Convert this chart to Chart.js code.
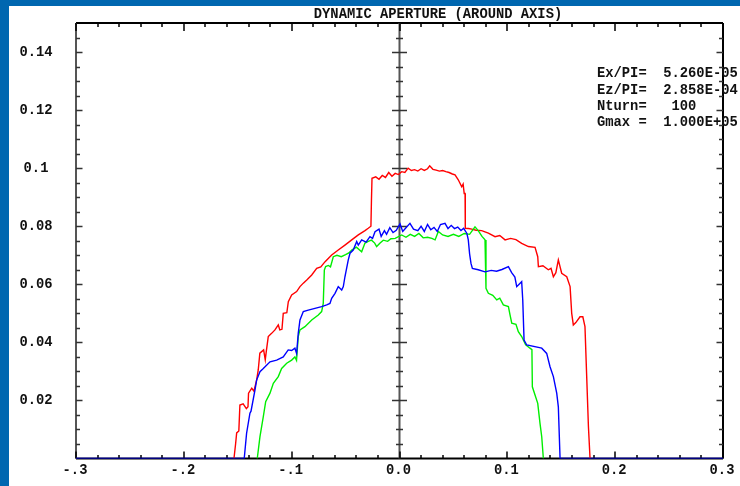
<!DOCTYPE html>
<html>
<head>
<meta charset="utf-8">
<script src="https://cdn.jsdelivr.net/npm/chart.js@4"></script>
<style>
  html, body { margin: 0; padding: 0; background: #0067b0; overflow: hidden; }
  #wrap { position: absolute; left: 9px; top: 6px; width: 731px; height: 480px; background: #fff; }
</style>
</head>
<body>
<div id="wrap"><canvas id="da" width="731" height="480"></canvas></div>
<script>
// dynamic aperture curves
var redX = [-0.1535,-0.152,-0.151,-0.149,-0.148,-0.145,-0.142,-0.1405,-0.140,-0.137,-0.135,-0.1325,-0.131,-0.1295,-0.126,-0.1245,-0.1235,-0.1217,-0.1186,-0.1155,-0.1124,-0.111,-0.109,-0.1078,-0.1045,-0.1031,-0.100,-0.0954,-0.0923,-0.0892,-0.086,-0.0814,-0.0768,-0.073,-0.069,-0.0629,-0.0568,-0.0506,-0.0443,-0.0382,-0.032,-0.029,-0.0265,-0.026,-0.0255,-0.022,-0.019,-0.016,-0.013,-0.010,-0.007,-0.004,-0.001,0.002,0.005,0.008,0.011,0.014,0.017,0.020,0.023,0.026,0.028,0.031,0.034,0.037,0.040,0.043,0.046,0.049,0.0515,0.0545,0.0577,0.059,0.060,0.0608,0.061,0.064,0.067,0.071,0.0762,0.0824,0.0886,0.093,0.0979,0.103,0.108,0.1133,0.1195,0.1257,0.1282,0.1288,0.133,0.138,0.1405,0.1427,0.145,0.1473,0.1504,0.1551,0.1582,0.1597,0.1612,0.1635,0.1674,0.170,0.172,0.1736,0.1752,0.1767];
var redY = [0,0.005,0.0088,0.0095,0.0184,0.0188,0.0172,0.0178,0.0225,0.0242,0.0232,0.027,0.0305,0.0363,0.0374,0.034,0.037,0.042,0.0431,0.0443,0.046,0.0443,0.0445,0.050,0.0502,0.054,0.0563,0.0575,0.0592,0.0604,0.0615,0.0632,0.0655,0.066,0.0678,0.0701,0.0718,0.0735,0.0753,0.077,0.0785,0.0793,0.080,0.089,0.0965,0.097,0.0962,0.0975,0.0968,0.0985,0.0972,0.0982,0.0978,0.0988,0.0985,0.1,0.0992,0.0995,0.099,0.0998,0.0992,0.0998,0.1008,0.0996,0.0993,0.099,0.0992,0.0988,0.0985,0.098,0.0977,0.096,0.0936,0.0945,0.0913,0.0913,0.0793,0.0792,0.079,0.0786,0.0785,0.0776,0.0764,0.0768,0.0753,0.0758,0.0754,0.0741,0.073,0.0727,0.0695,0.0661,0.0664,0.065,0.0655,0.0626,0.064,0.0684,0.0638,0.0626,0.0592,0.050,0.046,0.0468,0.0488,0.0488,0.0454,0.0282,0.011,0];

var blueX = [-0.3,-0.144,-0.1418,-0.1387,-0.1377,-0.134,-0.1325,-0.1294,-0.1263,-0.1201,-0.1139,-0.1078,-0.1032,-0.100,-0.097,-0.0954,-0.0939,-0.0923,-0.0892,-0.0846,-0.0784,-0.0722,-0.0675,-0.0645,-0.0629,-0.0598,-0.0568,-0.0536,-0.0521,-0.0506,-0.0475,-0.0459,-0.0429,-0.0397,-0.0382,-0.0351,-0.031,-0.0274,-0.025,-0.0227,-0.019,-0.017,-0.014,-0.012,-0.009,-0.006,-0.003,0.0005,0.003,0.006,0.0097,0.013,0.017,0.020,0.023,0.026,0.029,0.032,0.035,0.038,0.0422,0.045,0.048,0.051,0.054,0.057,0.0595,0.0625,0.0638,0.065,0.0663,0.0676,0.073,0.0793,0.085,0.090,0.095,0.101,0.104,0.107,0.1087,0.1133,0.1143,0.1155,0.118,0.1319,0.1365,0.1396,0.1427,0.1458,0.1473,0.1489,0.3];
var blueY = [0,0,0.0087,0.0156,0.0163,0.0236,0.027,0.0299,0.031,0.0333,0.0339,0.035,0.0374,0.0372,0.038,0.0362,0.0431,0.0477,0.0506,0.0511,0.0517,0.0523,0.0529,0.0534,0.0552,0.0569,0.0592,0.058,0.0592,0.0626,0.0684,0.0707,0.0718,0.0747,0.0735,0.0753,0.0745,0.0764,0.0758,0.0781,0.079,0.0765,0.0785,0.0772,0.0795,0.0778,0.0786,0.0808,0.0782,0.0795,0.081,0.079,0.0785,0.080,0.0782,0.0806,0.0788,0.0796,0.0782,0.0806,0.081,0.0792,0.0803,0.0792,0.0797,0.0785,0.0793,0.0775,0.0753,0.0705,0.0672,0.0655,0.065,0.0643,0.0648,0.0645,0.0651,0.0661,0.064,0.0625,0.0592,0.0609,0.0546,0.0408,0.0391,0.038,0.0362,0.0316,0.0282,0.0225,0.0178,0,0];

var greenX = [-0.1319,-0.1294,-0.1263,-0.1241,-0.1201,-0.117,-0.1124,-0.1093,-0.1046,-0.100,-0.097,-0.0955,-0.0939,-0.0923,-0.0877,-0.0814,-0.0753,-0.0722,-0.0707,-0.0697,-0.0685,-0.066,-0.064,-0.0614,-0.058,-0.054,-0.050,-0.047,-0.0443,-0.040,-0.0351,-0.032,-0.029,-0.026,-0.023,-0.0212,-0.018,-0.015,-0.011,-0.008,-0.004,0.002,0.006,0.010,0.014,0.018,0.022,0.026,0.030,0.033,0.036,0.040,0.045,0.050,0.055,0.060,0.065,0.070,0.073,0.0765,0.0793,0.0802,0.0824,0.0865,0.0902,0.093,0.0963,0.101,0.1025,0.1041,0.108,0.1102,0.1133,0.117,0.121,0.1228,0.1232,0.1282,0.1303,0.1319,0.1334];
var greenY = [0,0.0075,0.0144,0.0196,0.0225,0.0259,0.0282,0.031,0.0328,0.0339,0.035,0.0338,0.042,0.0443,0.0454,0.0477,0.0494,0.0506,0.0534,0.0649,0.0661,0.0665,0.066,0.0695,0.070,0.0695,0.0702,0.0708,0.0718,0.0728,0.0712,0.0742,0.0748,0.0752,0.0742,0.073,0.0742,0.0752,0.0748,0.0757,0.0758,0.077,0.0762,0.0772,0.0765,0.0775,0.076,0.0762,0.0758,0.0753,0.0782,0.077,0.0765,0.0772,0.0765,0.0775,0.0772,0.0798,0.0785,0.0765,0.0753,0.0586,0.0569,0.0562,0.0546,0.0552,0.0529,0.0523,0.0495,0.0466,0.0462,0.0437,0.042,0.0392,0.038,0.0375,0.0247,0.019,0.0121,0.0075,0];

var xTicks = [-0.3, -0.2, -0.1, 0, 0.1, 0.2, 0.3];
var xLabels = ['-.3', '-.2', '-.1', '0.0', '0.1', '0.2', '0.3'];
var yTicks = [0.02, 0.04, 0.06, 0.08, 0.1, 0.12, 0.14];
var yLabels = ['0.02', '0.04', '0.06', '0.08', '0.1', '0.12', '0.14'];

var title = 'DYNAMIC APERTURE (AROUND AXIS)';
var infoLines = ['Ex/PI=  5.260E-05', 'Ez/PI=  2.858E-04', 'Nturn=   100', 'Gmax =  1.000E+05'];

function pts(xs, ys) {
    var out = [];
    for (var i = 0; i < xs.length; i++) out.push({x: xs[i], y: ys[i]});
    return out;
}

var FONT = 'bold 13.8px "Liberation Mono", "DejaVu Sans Mono", monospace';

var framePlugin = {
    id: 'frame',
    beforeDatasetsDraw: function(chart) {
        var ctx = chart.ctx, a = chart.chartArea;
        var sx = chart.scales.x, sy = chart.scales.y;
        var i, px, py, major, len;
        ctx.save();
        ctx.lineWidth = 2;

        // frame
        ctx.strokeStyle = '#000';
        ctx.beginPath();
        ctx.moveTo(a.left, a.top); ctx.lineTo(a.right, a.top);
        ctx.moveTo(a.left, a.bottom); ctx.lineTo(a.right, a.bottom);
        ctx.moveTo(a.right, a.top); ctx.lineTo(a.right, a.bottom);
        ctx.stroke();
        ctx.strokeStyle = '#555';
        ctx.beginPath();
        ctx.moveTo(a.left, a.top); ctx.lineTo(a.left, a.bottom);
        var x0 = sx.getPixelForValue(0);
        ctx.moveTo(x0, a.top); ctx.lineTo(x0, a.bottom);
        ctx.stroke();

        // x ticks, top and bottom, every 0.02
        ctx.lineWidth = 1.5;
        ctx.strokeStyle = '#000';
        ctx.beginPath();
        for (i = 0; i <= 30; i++) {
            px = Math.round(sx.getPixelForValue(-0.3 + i * 0.02));
            major = i % 5 === 0;
            ctx.moveTo(px, a.bottom); ctx.lineTo(px, a.bottom - (major ? 7 : 3.5));
            ctx.moveTo(px, a.top); ctx.lineTo(px, a.top + (major ? 8 : 4));
        }
        ctx.stroke();

        // y ticks, left, right and centre axis, every 0.005
        ctx.beginPath();
        for (i = 1; i < 30; i++) {
            py = Math.round(sy.getPixelForValue(i * 0.005)) + 0.5;
            major = i % 4 === 0;
            len = major ? 6.5 : 4;
            ctx.moveTo(a.left, py); ctx.lineTo(a.left + len, py);
            ctx.moveTo(a.right, py); ctx.lineTo(a.right - len, py);
            ctx.moveTo(x0 - (major ? 7.5 : 3.5), py); ctx.lineTo(x0 + (major ? 7.5 : 3.5), py);
        }
        ctx.strokeStyle = '#333';
        ctx.stroke();

        // labels
        ctx.fillStyle = '#111';
        ctx.font = FONT;
        ctx.textAlign = 'center';
        ctx.textBaseline = 'middle';
        for (i = 0; i < xTicks.length; i++) {
            ctx.fillText(xLabels[i], sx.getPixelForValue(xTicks[i]) - 1, a.bottom + 12);
        }
        for (i = 0; i < yTicks.length; i++) {
            ctx.fillText(yLabels[i], 27, sy.getPixelForValue(yTicks[i]));
        }
        ctx.fillText(title, 429, 9);
        ctx.restore();
    },
    afterDraw: function(chart) {
        var ctx = chart.ctx;
        ctx.save();
        ctx.fillStyle = '#111';
        ctx.font = FONT;
        ctx.textAlign = 'left';
        ctx.textBaseline = 'middle';
        for (var i = 0; i < infoLines.length; i++) {
            ctx.fillText(infoLines[i], 588, 68 + i * 16.3);
        }
        ctx.restore();
    }
};

new Chart(document.getElementById('da'), {
    type: 'line',
    data: {
        datasets: [
            { label: 'blue', data: pts(blueX, blueY), borderColor: '#0000ff', order: 1 },
            { label: 'green', data: pts(greenX, greenY), borderColor: '#00ee00', order: 2 },
            { label: 'red', data: pts(redX, redY), borderColor: '#ff0000', order: 3 }
        ]
    },
    options: {
        responsive: false,
        animation: false,
        events: [],
        datasets: { line: { borderWidth: 1.4, pointRadius: 0, tension: 0, fill: false } },
        layout: { padding: { left: 67, right: 17, top: 17, bottom: 27.5 } },
        plugins: { legend: { display: false }, title: { display: false }, tooltip: { enabled: false } },
        scales: {
            x: { type: 'linear', min: -0.3, max: 0.3, display: false },
            y: { type: 'linear', min: 0, max: 0.15, display: false }
        }
    },
    plugins: [framePlugin]
});
</script>
</body>
</html>
